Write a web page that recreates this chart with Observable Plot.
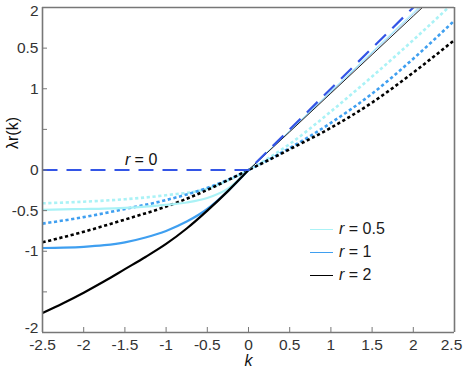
<!DOCTYPE html>
<html><head><meta charset="utf-8">
<script src="https://cdn.jsdelivr.net/npm/d3@7"></script>
<script src="https://cdn.jsdelivr.net/npm/@observablehq/plot@0.6"></script>
<style>
body{margin:0;background:#fff;}
#wrap{position:relative;width:463px;height:378px;font-family:"Liberation Sans",Arial,sans-serif;}
#legend{position:absolute;left:310px;top:217.5px;font-size:16px;color:#1a1a1a;}
.row{display:flex;align-items:center;height:23px;white-space:nowrap;}
.sw{width:23px;height:1px;margin-right:6px;}
</style></head><body><div id="wrap"><div id="chart"></div><div id="legend"></div></div>
<script>
// ---- data ----
const xTicks = [-2.5,-2,-1.5,-1,-0.5,0,0.5,1,1.5,2,2.5];
const yTicks = [-2,-1.5,-1,-0.5,0,0.5,1,1.5,2];
const yTickLabels = ["-2","","-1","-0.5","0","","1","0.5","2"];

// r = 0 (dashed)
const kR0 = [-2.5, 0, 2.5];
const r0 = [0, 0, 2.5];

// solid curves, left part (thick)
const kLeft = [-2.5,-2.25,-2,-1.75,-1.5,-1.25,-1,-0.75,-0.5,-0.25,0];
const r05SolidLeft = [-0.49,-0.485,-0.48,-0.475,-0.465,-0.45,-0.43,-0.40,-0.345,-0.23,0];
const r1SolidLeft  = [-0.96,-0.955,-0.945,-0.925,-0.89,-0.83,-0.75,-0.635,-0.48,-0.26,0];
const r2SolidLeft  = [-1.76,-1.64,-1.51,-1.37,-1.22,-1.07,-0.91,-0.72,-0.50,-0.26,0];

// solid curves, right part (thin)
const kRight = [0,0.5,1,1.5,2,2.5];
const r05SolidRight = [0,0.485,0.97,1.455,1.94,2.43];
const r1SolidRight  = [0,0.48,0.96,1.44,1.92,2.40];
const r2SolidRight  = [0,0.47,0.945,1.42,1.895,2.37];

// dotted curves
const kDot = [-2.5,-2,-1.5,-1,-0.5,-0.25,0,0.25,0.5,1,1.5,2,2.5];
const r05Dot = [-0.41,-0.39,-0.36,-0.31,-0.23,-0.13,0,0.15,0.32,0.72,1.15,1.60,2.07];
const r1Dot  = [-0.66,-0.58,-0.48,-0.37,-0.22,-0.12,0,0.13,0.27,0.58,0.94,1.37,1.84];
const r2Dot  = [-0.89,-0.76,-0.61,-0.45,-0.245,-0.125,0,0.125,0.255,0.52,0.83,1.20,1.60];

const legendR = [0.5, 1, 2];

// ---- styles ----
const cCyan = "#aaf2f6", cBlue = "#3f9ff0", cBlack = "#000000", cDash = "#3355e6";
const frameColor = "#777777";
const font = "'Liberation Sans', Arial, sans-serif";
const pts = (ks, ys) => ks.map((k, i) => ({k, y: ys[i]}));
const dotted = (data, stroke) => Plot.line(data, {x: "k", y: "y", stroke, strokeWidth: 2.6, strokeDasharray: "3.2,2.6", strokeLinecap: "butt", curve: "monotone-x", clip: true});
const solid = (data, stroke, w) => Plot.line(data, {x: "k", y: "y", stroke, strokeWidth: w, curve: "monotone-x", clip: true});
const midTicks = yTicks.filter(d => Math.abs(d) < 2);
const endTop = yTicks.filter(d => d === 2), endBottom = yTicks.filter(d => d === -2);
const yFmt = d => yTickLabels[yTicks.indexOf(d)];
const xMain = xTicks.slice(0, -1), xLast = xTicks.slice(-1);
const xEdges = [xTicks[0], xTicks[xTicks.length - 1]];
const yEdges = [yTicks[0], yTicks[yTicks.length - 1]];

const chart = Plot.plot({
  width: 463, height: 378,
  marginLeft: 42, marginRight: 9, marginTop: 7, marginBottom: 46,
  style: {fontFamily: font, fontSize: "15.5px", color: "#333", background: "white", overflow: "visible"},
  x: {domain: [-2.5, 2.5]},
  y: {domain: [-2, 2]},
  marks: [
    dotted(pts(kDot, r05Dot), cCyan),
    dotted(pts(kDot, r1Dot), cBlue),
    dotted(pts(kDot, r2Dot), cBlack),
    solid(pts(kLeft, r05SolidLeft), cCyan, 2.2),
    solid(pts(kLeft, r1SolidLeft), cBlue, 2.2),
    solid(pts(kLeft, r2SolidLeft), cBlack, 2.2),
    solid(pts(kRight, r05SolidRight), cCyan, 1),
    solid(pts(kRight, r1SolidRight), "#8cc8f8", 1),
    solid(pts(kRight, r2SolidRight), "#222", 1),
    Plot.line(pts(kR0, r0), {x: "k", y: "y", stroke: cDash, strokeWidth: 2.2, strokeDasharray: "15,9", strokeLinecap: "butt", clip: true}),
    Plot.text(["r"], {x: -1.5, y: 0.12, text: d => d, textAnchor: "start", fontStyle: "italic", fill: "#111", fontSize: 16}),
    Plot.text(["= 0"], {x: -1.5, y: 0.12, text: d => d, textAnchor: "start", dx: 9.7, fill: "#111", fontSize: 16}),
    Plot.ruleX(xEdges, {stroke: frameColor, strokeWidth: 1.6}),
    Plot.ruleY(yEdges, {stroke: frameColor, strokeWidth: 1.6}),
    Plot.axisX(xTicks, {tickSize: -5, tickPadding: 11, tickFormat: () => "", label: null, stroke: frameColor}),
    Plot.axisX(xMain, {tickSize: 0, tickPadding: 6, tickFormat: d => String(d), label: null, fill: "#333"}),
    Plot.axisX(xLast, {tickSize: 0, tickPadding: 6, tickFormat: d => String(d), label: null, fill: "#333", dx: -3}),
    Plot.axisY(yTicks, {tickSize: -5, tickPadding: 9, tickFormat: () => "", label: null, stroke: frameColor}),
    Plot.axisY(midTicks, {tickSize: 0, tickPadding: 4, tickFormat: yFmt, label: null, fill: "#333"}),
    Plot.axisY(endTop, {tickSize: 0, tickPadding: 4, tickFormat: yFmt, label: null, fill: "#333", dy: 4}),
    Plot.axisY(endBottom, {tickSize: 0, tickPadding: 4, tickFormat: yFmt, label: null, fill: "#333", dy: -4}),
    Plot.text(["k"], {frameAnchor: "bottom", dy: 33, fontStyle: "italic", fill: "#111", fontSize: 16}),
    Plot.text(["λr(k)"], {frameAnchor: "left", dx: -30, dy: -21, rotate: -90, fill: "#111", fontSize: 16})
  ]
});
document.getElementById("chart").appendChild(chart);

const legendColors = [cCyan, cBlue, cBlack];
const lg = document.getElementById("legend");
legendR.forEach((v, i) => {
  const row = document.createElement("div");
  row.className = "row";
  row.innerHTML = `<span class="sw" style="background:${legendColors[i]}"></span><i>r</i>&nbsp;=&nbsp;${v}`;
  lg.appendChild(row);
});
</script>
</body></html>
